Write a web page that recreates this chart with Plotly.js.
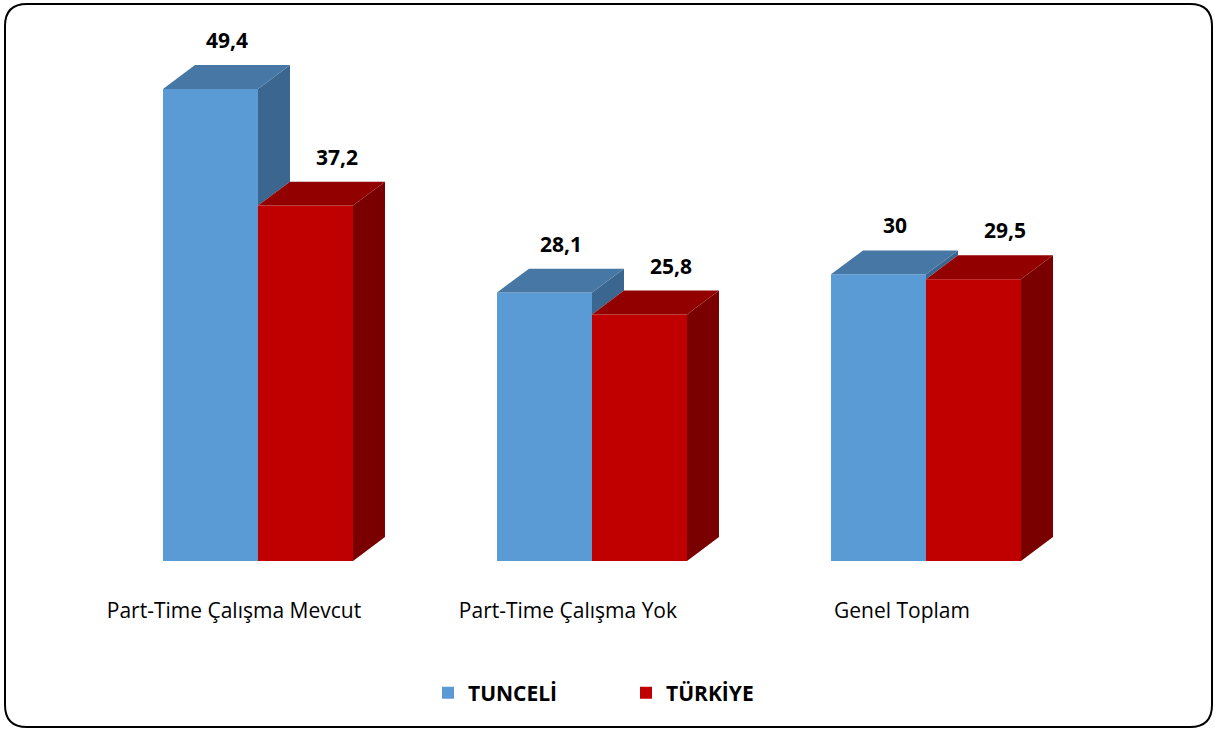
<!DOCTYPE html>
<html>
<head>
<meta charset="utf-8">
<script src="https://cdn.plot.ly/plotly-3.0.1.min.js"></script>
<style>
html,body{margin:0;padding:0;background:#fff;}
#chart{width:1215px;height:729px;}
</style>
</head>
<body>
<div id="chart"></div>
<script>
// ---- data ----
const categories = ['Part-Time Çalışma Mevcut', 'Part-Time Çalışma Yok', 'Genel Toplam'];
const seriesNames = ['TUNCELİ', 'TÜRKİYE'];
const tunceli = [49.4, 28.1, 30];
const turkiye = [37.2, 25.8, 29.5];

// ---- styling / geometry ----
const FONT = 'Open Sans, Liberation Sans, sans-serif';
const W = 0.2844;   // bar width (x units)
const DX = 0.0958;  // depth offset x (x units)
const DY = 2.5;     // depth offset y (y units)
const colors = {
  front: ['#5B9BD5', '#C00000'],
  top:   ['#4677A5', '#930000'],
  side:  ['#3B6690', '#7A0000']
};
const labelShift = [0.5 * DX, 1.0 * DX];

const idx = categories.map((c, i) => i);
const series = [tunceli, turkiye];
const fmt = v => String(v).replace('.', ',');

const traces = [];
// front faces as bars
series.forEach((vals, s) => {
  traces.push({
    type: 'bar',
    name: seriesNames[s],
    x: idx,
    y: vals,
    width: idx.map(() => W),
    offset: idx.map(() => (s === 0 ? -W : 0)),
    marker: {color: colors.front[s], line: {width: 0}},
    hoverinfo: 'skip'
  });
});

function poly(xs, ys, color) {
  traces.push({
    type: 'scatter', mode: 'lines', x: xs.concat([xs[0]]), y: ys.concat([ys[0]]),
    fill: 'toself', fillcolor: color, line: {width: 0, color: color},
    showlegend: false, hoverinfo: 'skip'
  });
}

idx.forEach(i => {
  series.forEach((vals, s) => {
    const v = vals[i];
    const x0 = s === 0 ? i - W : i;
    const x1 = x0 + W;
    // side face (Tunceli side is partly hidden by the Türkiye bar)
    let bottom = 0;
    if (s === 0) bottom = series[1][i];
    if (v > bottom) {
      poly([x1, x1 + DX, x1 + DX, x1], [bottom, bottom + DY, v + DY, v], colors.side[s]);
    }
    // top face
    poly([x0, x1, x1 + DX, x0 + DX], [v, v, v + DY, v + DY], colors.top[s]);
  });
});

// data labels
const annotations = [];
series.forEach((vals, s) => {
  vals.forEach((v, i) => {
    const x0 = s === 0 ? i - W : i;
    annotations.push({
      x: x0 + W / 2 + labelShift[s], y: v + DY, xref: 'x', yref: 'y',
      text: fmt(v), showarrow: false, yanchor: 'bottom', yshift: 9,
      font: {family: FONT, size: 21, color: '#000000', weight: 'bold'}
    });
  });
});

// rounded border in paper coords
const ML = 91, MR = 122, MT = 16, MB = 168;
const PW = 1215 - ML - MR, PH = 729 - MT - MB;
const px = x => (x - ML) / PW;
const py = y => (729 - MB - y) / PH;
const bx0 = 5, by0 = 4, bx1 = 1212, by1 = 727, R = 22;
const borderPath =
  `M ${px(bx0 + R)},${py(by0)} L ${px(bx1 - R)},${py(by0)} ` +
  `Q ${px(bx1)},${py(by0)} ${px(bx1)},${py(by0 + R)} L ${px(bx1)},${py(by1 - R)} ` +
  `Q ${px(bx1)},${py(by1)} ${px(bx1 - R)},${py(by1)} L ${px(bx0 + R)},${py(by1)} ` +
  `Q ${px(bx0)},${py(by1)} ${px(bx0)},${py(by1 - R)} L ${px(bx0)},${py(by0 + R)} ` +
  `Q ${px(bx0)},${py(by0)} ${px(bx0 + R)},${py(by0)} Z`;

const layout = {
  width: 1215, height: 729,
  margin: {l: ML, r: MR, t: MT, b: MB, pad: 0},
  paper_bgcolor: '#ffffff', plot_bgcolor: '#ffffff',
  barmode: 'overlay',
  showlegend: true,
  legend: {
    orientation: 'h', x: px(428), xanchor: 'left', y: py(693), yanchor: 'middle',
    entrywidth: 153, entrywidthmode: 'pixels',
    font: {family: FONT, size: 21, color: '#000000', weight: 'bold'},
    traceorder: 'normal'
  },
  xaxis: {
    range: [-0.5, 2.5], fixedrange: true,
    tickvals: idx.map(i => i - 0.072), ticktext: categories,
    tickfont: {family: FONT, size: 21, color: '#000000'},
    ticks: '', showline: false, showgrid: false, zeroline: false,
    ticklabelstandoff: 35
  },
  yaxis: {
    range: [0, 57.04], fixedrange: true,
    showticklabels: false, showgrid: false, zeroline: false, showline: false, ticks: ''
  },
  annotations: annotations,
  shapes: [{type: 'path', xref: 'paper', yref: 'paper', path: borderPath,
            line: {color: '#000000', width: 2}, fillcolor: 'rgba(0,0,0,0)'}]
};

Plotly.newPlot('chart', traces, layout, {displayModeBar: false, staticPlot: true});
</script>
</body>
</html>
